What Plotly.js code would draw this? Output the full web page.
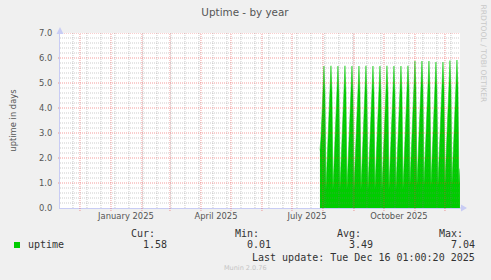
<!DOCTYPE html>
<html>
<head>
<meta charset="utf-8">
<script src="https://cdn.plot.ly/plotly-3.0.1.min.js"></script>
<style>
html,body{margin:0;padding:0;background:#F0F0F0;}
#chart{width:491px;height:280px;}
</style>
</head>
<body>
<div id="chart"></div>
<script>
// ---- data (daily averages) ----
const days = [
 "2025-07-29","2025-07-30","2025-07-31",
 "2025-08-01","2025-08-02","2025-08-03","2025-08-04","2025-08-05","2025-08-06","2025-08-07","2025-08-08","2025-08-09","2025-08-10",
 "2025-08-11","2025-08-12","2025-08-13","2025-08-14","2025-08-15","2025-08-16","2025-08-17","2025-08-18","2025-08-19","2025-08-20",
 "2025-08-21","2025-08-22","2025-08-23","2025-08-24","2025-08-25","2025-08-26","2025-08-27","2025-08-28","2025-08-29","2025-08-30","2025-08-31",
 "2025-09-01","2025-09-02","2025-09-03","2025-09-04","2025-09-05","2025-09-06","2025-09-07","2025-09-08","2025-09-09","2025-09-10",
 "2025-09-11","2025-09-12","2025-09-13","2025-09-14","2025-09-15","2025-09-16","2025-09-17","2025-09-18","2025-09-19","2025-09-20",
 "2025-09-21","2025-09-22","2025-09-23","2025-09-24","2025-09-25","2025-09-26","2025-09-27","2025-09-28","2025-09-29","2025-09-30",
 "2025-10-01","2025-10-02","2025-10-03","2025-10-04","2025-10-05","2025-10-06","2025-10-07","2025-10-08","2025-10-09","2025-10-10",
 "2025-10-11","2025-10-12","2025-10-13","2025-10-14","2025-10-15","2025-10-16","2025-10-17","2025-10-18","2025-10-19","2025-10-20",
 "2025-10-21","2025-10-22","2025-10-23","2025-10-24","2025-10-25","2025-10-26","2025-10-27","2025-10-28","2025-10-29","2025-10-30","2025-10-31",
 "2025-11-01","2025-11-02","2025-11-03","2025-11-04","2025-11-05","2025-11-06","2025-11-07","2025-11-08","2025-11-09","2025-11-10",
 "2025-11-11","2025-11-12","2025-11-13","2025-11-14","2025-11-15","2025-11-16","2025-11-17","2025-11-18","2025-11-19","2025-11-20",
 "2025-11-21","2025-11-22","2025-11-23","2025-11-24","2025-11-25","2025-11-26","2025-11-27","2025-11-28","2025-11-29","2025-11-30",
 "2025-12-01","2025-12-02","2025-12-03","2025-12-04","2025-12-05","2025-12-06","2025-12-07","2025-12-08","2025-12-09","2025-12-10",
 "2025-12-11","2025-12-12","2025-12-13","2025-12-14","2025-12-15","2025-12-16"
];
const uptime = [
 2.30,2.80,3.70,
 4.70,5.68,4.60,0.75,1.72,2.70,3.70,4.70,5.69,4.62,
 0.74,1.70,2.70,3.70,4.70,5.68,4.60,0.76,1.72,2.71,
 3.70,4.70,5.69,4.61,0.74,1.71,2.70,3.70,4.69,5.68,4.60,
 0.75,1.70,2.70,3.70,4.70,5.68,4.61,0.75,1.71,2.70,
 3.70,4.70,5.69,4.60,0.74,1.70,2.70,3.69,4.70,5.68,
 4.62,0.76,1.72,2.71,3.70,4.70,5.68,4.60,0.75,1.70,
 2.70,3.70,4.70,5.69,4.61,0.74,1.70,2.70,3.70,4.69,
 5.68,4.60,0.75,1.71,2.70,3.70,4.70,5.68,4.61,0.75,
 1.70,2.70,3.70,4.70,5.69,4.80,0.92,1.90,2.90,3.90,4.89,
 5.88,4.78,0.90,1.89,2.90,3.90,4.90,5.88,4.78,0.90,
 1.90,2.88,3.88,4.87,5.88,4.76,0.88,1.87,2.86,3.86,
 4.85,5.84,4.77,0.90,1.90,2.90,3.88,4.86,5.84,4.80,
 0.92,1.91,2.90,3.90,4.90,5.90,4.80,0.93,1.92,2.92,
 3.92,4.92,5.92,4.82,0.93,1.58
];
const seriesName = "uptime";
const yTicks = [0,1,2,3,4,5,6,7];
const yTickText = ["0.0","1.0","2.0","3.0","4.0","5.0","6.0","7.0"];
const monthStarts = ["2024-12-01","2025-01-01","2025-02-01","2025-03-01","2025-04-01","2025-05-01",
  "2025-06-01","2025-07-01","2025-08-01","2025-09-01","2025-10-01","2025-11-01","2025-12-01"];
const labelDates = ["2025-01-16","2025-04-16","2025-07-16","2025-10-16"];
const labelText = ["January 2025","April 2025","July 2025","October 2025"];
const legendHeads = ["Cur:","Min:","Avg:","Max:"];
const legendValues = ["1.58","0.01","3.49","7.04"];
const lastUpdate = "Last update: Tue Dec 16 01:00:20 2025";
const minorStart = "2024-11-24";   // first two-weekly minor grid line
const minorStepDays = 14;
const yMinorStep = 0.2;

// ---- layout helpers (pixel -> paper) ----
const W = 491, H = 280, L = 60, R = 31, T = 33, B = 72;
const PW = W - L - R, PH = H - T - B;
const px = x => (x - L) / PW;
const py = y => (H - B - y) / PH;

const GREEN = "#00CC00";
const AXIS = "#C8CCF4";
const MGRID = "rgba(232,60,60,0.5)";
const GRID = "rgba(120,120,120,0.38)";
const FONT = "DejaVu Sans, sans-serif";
const MONO = "DejaVu Sans Mono, monospace";
const range = ["2024-11-11 01:00", "2025-12-16 01:00"];

const trace = {
  x: days, y: uptime, name: seriesName, type: "scatter", mode: "lines",
  fill: "tozeroy", fillcolor: GREEN, line: {color: GREEN, width: 0.5},
  hoverinfo: "skip", showlegend: false
};

// ---- grid (drawn above the area, as rrdtool does) ----
const shapes = [];
const DASH = "1px,1px";
// minor vertical (two-weekly)
const endMs = Date.parse("2025-12-16T01:00:00Z");
for (let t = Date.parse(minorStart + "T00:00:00Z"); t < endMs; t += minorStepDays * 86400000) {
  const d = new Date(t).toISOString().slice(0, 10);
  if (monthStarts.includes(d)) continue;
  shapes.push({type: "line", layer: "above", xref: "x", yref: "paper", x0: d, x1: d, y0: 0, y1: 1,
    line: {color: GRID, width: 1, dash: DASH}});
}
// minor horizontal
for (let i = 1; i < 35; i++) {
  if (i % 5 === 0) continue;
  const v = +(i * yMinorStep).toFixed(1);
  shapes.push({type: "line", layer: "above", xref: "paper", yref: "y", x0: 0, x1: 1, y0: v, y1: v,
    line: {color: GRID, width: 1, dash: DASH}});
}
// major vertical (months), with a short tick below the axis
monthStarts.forEach(d => shapes.push({type: "line", layer: "above", xref: "x", yref: "paper",
  x0: d, x1: d, y0: -3 / PH, y1: 1, line: {color: MGRID, width: 1, dash: DASH}}));
// major horizontal
yTicks.filter(v => v > 0).forEach(v => shapes.push({type: "line", layer: "above", xref: "paper", yref: "y",
  x0: -2 / PW, x1: 1, y0: v, y1: v, line: {color: MGRID, width: 1, dash: DASH}}));

// legend colour box and axis arrows
shapes.push({type: "rect", xref: "paper", yref: "paper", x0: px(14), x1: px(20), y0: py(248), y1: py(242),
   fillcolor: GREEN, line: {width: 0}});
shapes.push({type: "path", xref: "paper", yref: "paper", xsizemode: "pixel", ysizemode: "pixel",
   xanchor: 0, yanchor: 1, path: "M -3.5 -1 L 3.5 -1 L 0 6 Z", fillcolor: AXIS, line: {width: 0}});
shapes.push({type: "path", xref: "paper", yref: "paper", xsizemode: "pixel", ysizemode: "pixel",
   xanchor: 1, yanchor: 0, path: "M 1 -3.5 L 1 3.5 L 7 0 Z", fillcolor: AXIS, line: {width: 0}});
shapes.push({type: "line", xref: "paper", yref: "paper", x0: 1, x1: px(464), y0: 0, y1: 0,
   line: {color: AXIS, width: 1}});

// ---- texts ----
const annotations = [];
const legX = [157, 261, 363, 465];
const valX = [169, 273, 375, 477];
const txt = (text, x, y, xanchor, font, extra) => Object.assign({
  text: text, xref: "paper", yref: "paper", x: px(x), y: py(y),
  xanchor: xanchor, yanchor: "middle", showarrow: false, font: font}, extra || {});
const monoFont = {family: MONO, size: 10, color: "#333"};
legendHeads.forEach((t, i) => annotations.push(txt(t, legX[i], 233, "right", monoFont)));
legendValues.forEach((t, i) => annotations.push(txt(t, valX[i], 244, "right", monoFont)));
annotations.push(txt(seriesName, 26, 244, "left", monoFont));
annotations.push(txt(lastUpdate, 477, 257, "right", monoFont));
annotations.push(txt("Munin 2.0.76", 245, 268, "center", {family: FONT, size: 6.5, color: "#C4C4C4"}));
annotations.push(txt("RRDTOOL / TOBI OETIKER", 483.5, 54, "center",
  {family: FONT, size: 7.6, color: "#C8C8C8"}, {textangle: 90}));

const layout = {
  width: W, height: H,
  paper_bgcolor: "#F0F0F0", plot_bgcolor: "#FFFFFF",
  margin: {l: L, r: R, t: T, b: B, pad: 0},
  showlegend: false,
  title: {text: "Uptime - by year", xref: "container", yref: "container",
    x: 245 / W, y: 1 - 12 / H, xanchor: "center", yanchor: "middle",
    font: {family: FONT, size: 10.4, color: "#555"}},
  xaxis: {
    type: "date", range: range, fixedrange: true,
    tickmode: "array", tickvals: labelDates, ticktext: labelText,
    tickfont: {family: FONT, size: 8.4, color: "#555"},
    showgrid: false, ticks: "", showline: true, linecolor: AXIS, linewidth: 1, zeroline: false
  },
  yaxis: {
    range: [0, 7], fixedrange: true,
    tickmode: "array", tickvals: yTicks, ticktext: yTickText,
    tickfont: {family: FONT, size: 8.4, color: "#555"},
    ticks: "", ticklabelstandoff: 5,
    showgrid: false, showline: true, linecolor: AXIS, linewidth: 1, zeroline: false,
    title: {text: "uptime in days", standoff: 21,
      font: {family: FONT, size: 8.4, color: "#555"}}
  },
  annotations: annotations,
  shapes: shapes
};

Plotly.newPlot("chart", [trace], layout, {staticPlot: true, displayModeBar: false});
</script>
</body>
</html>
